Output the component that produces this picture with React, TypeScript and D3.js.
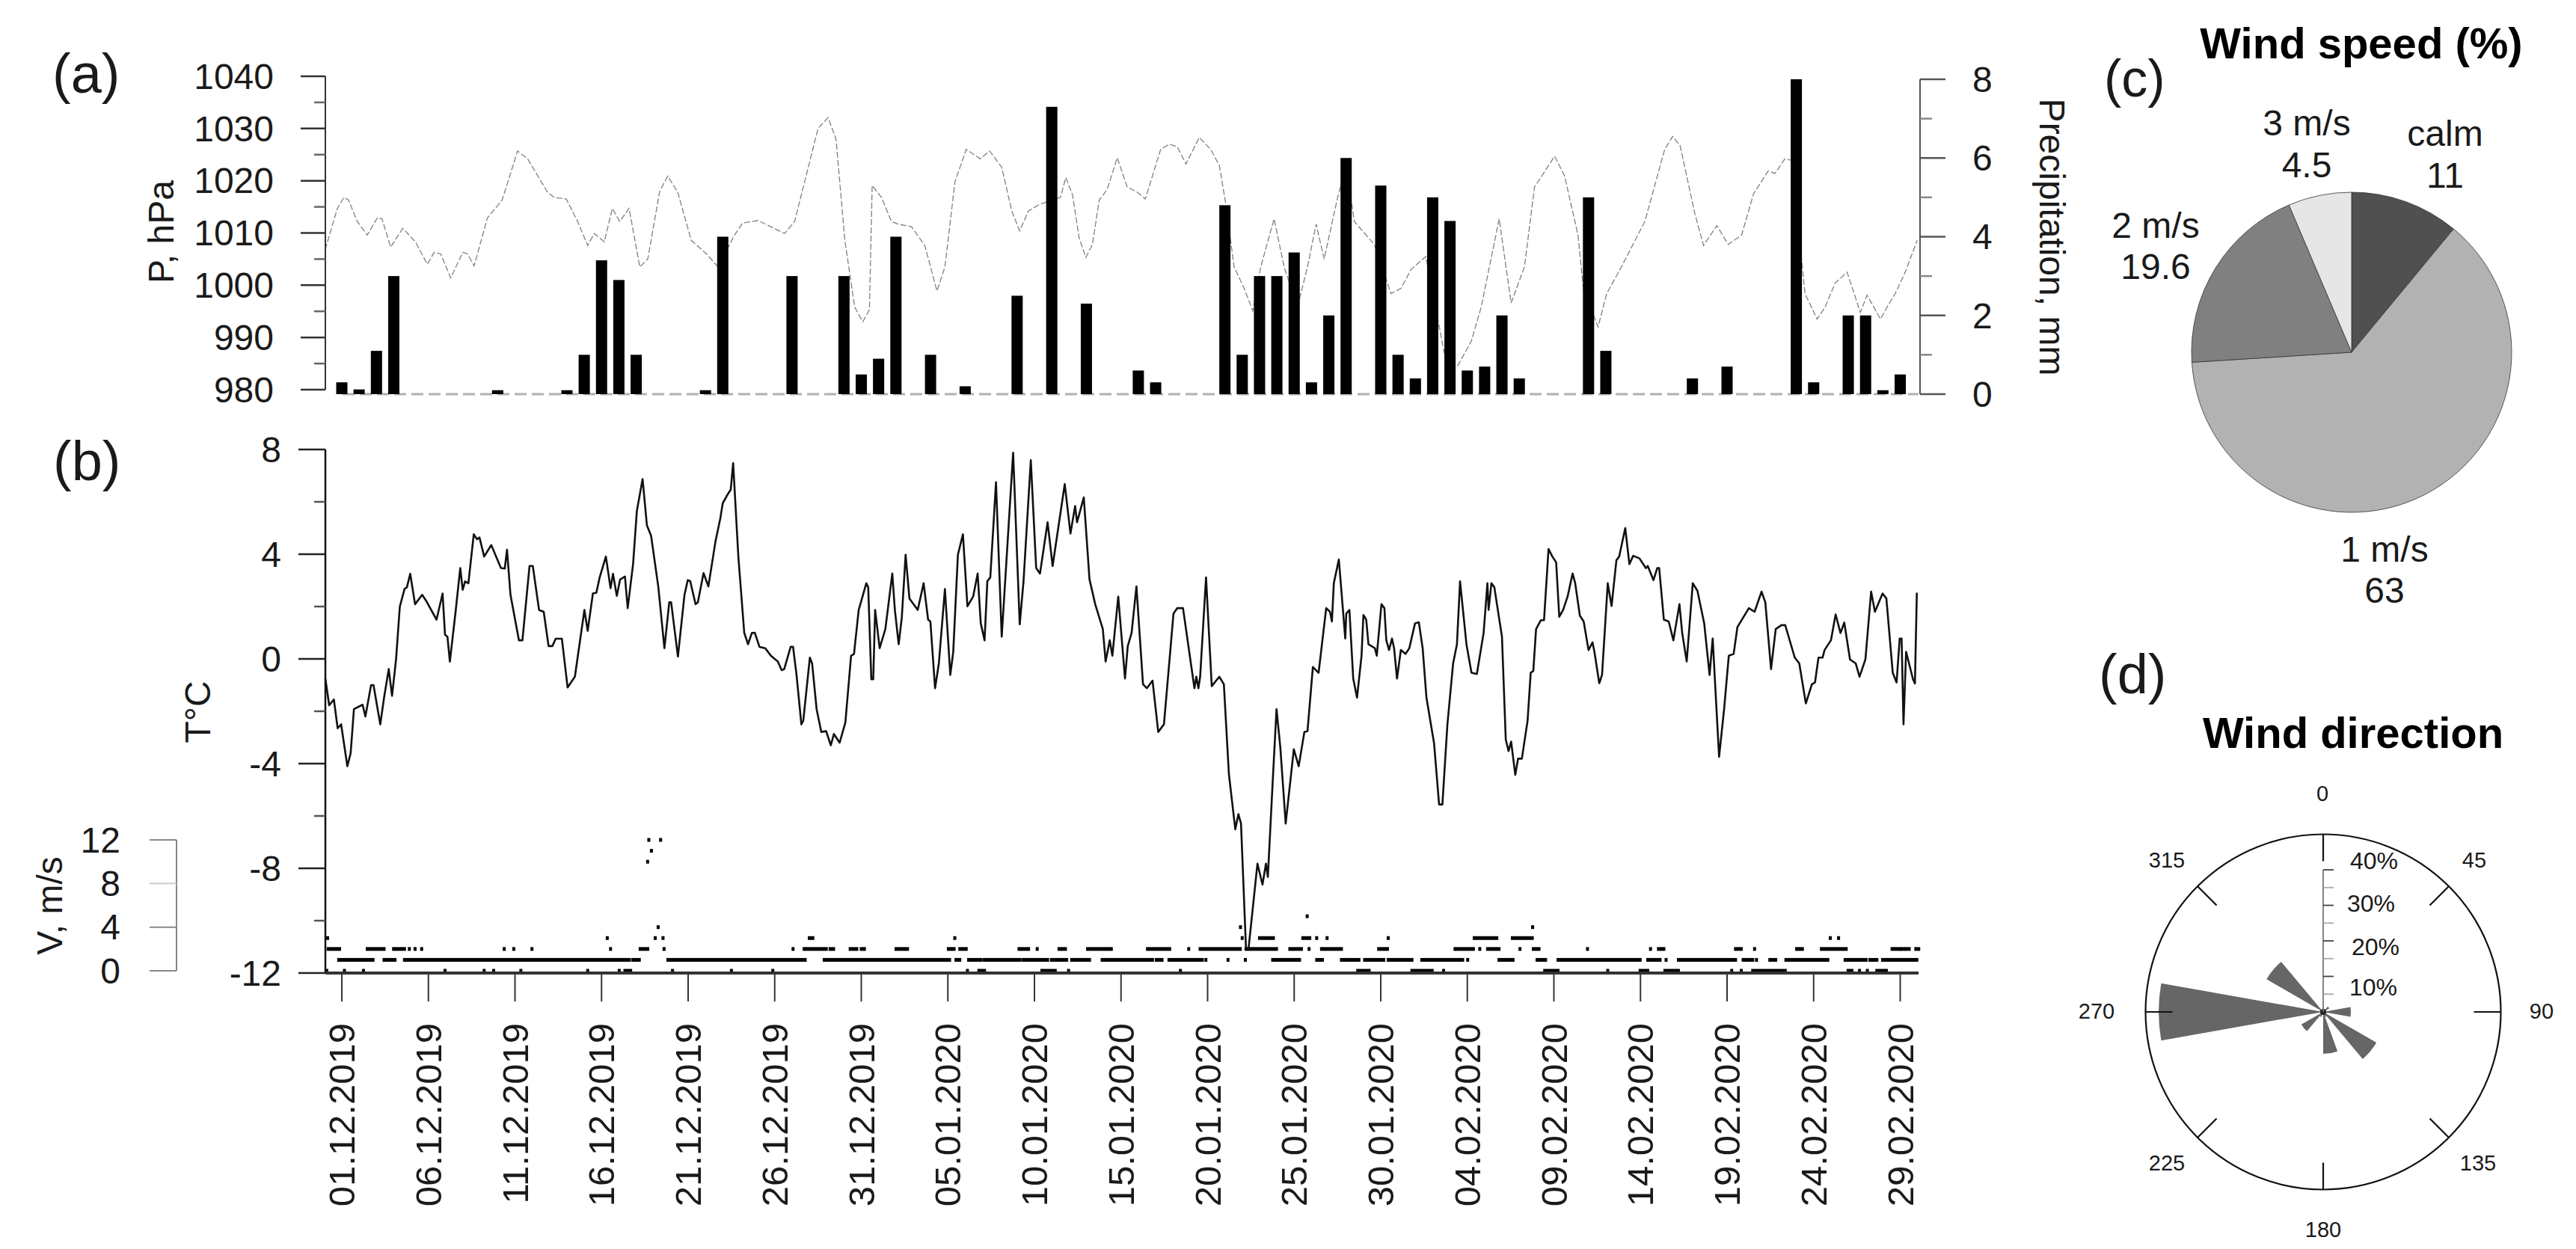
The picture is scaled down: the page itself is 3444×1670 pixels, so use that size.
import React from "react";
import * as d3 from "d3";

// ---------- DATA ----------
const dateLabels = ["01.12.2019","06.12.2019","11.12.2019","16.12.2019","21.12.2019","26.12.2019","31.12.2019","05.01.2020","10.01.2020","15.01.2020","20.01.2020","25.01.2020","30.01.2020","04.02.2020","09.02.2020","14.02.2020","19.02.2020","24.02.2020","29.02.2020"];

// day number since 01.12.2019
const precipDays = [0,1,2,3,9,13,14,15,16,17,21,22,26,29,30,31,32,34,36,39,41,43,46,47,51,52,53,54,55,56,57,58,60,61,62,63,64,65,66,67,68,72,73,78,80,84,85,87,88,89,90];
const precipMm = [0.3,0.12,1.1,3,0.1,0.1,1,3.4,2.9,1,0.1,4,3,3,0.5,0.9,4,1,0.2,2.5,7.3,2.3,0.6,0.3,4.8,1,3,3,3.6,0.3,2,6,5.3,1,0.4,5,4.4,0.6,0.7,2,0.4,5,1.1,0.4,0.7,8,0.3,2,2,0.1,0.5];

const pressure: [number, number][] = [[-0.96,1006.8],[-0.26,1014.7],[0.12,1016.8],[0.39,1016.3],[0.89,1012.2],[1.47,1009.6],[2.05,1012.9],[2.32,1012.7],[2.82,1007.3],[3.52,1010.9],[4.25,1008.3],[4.94,1004],[5.33,1006.3],[5.71,1006],[6.29,1001.4],[6.99,1006.3],[7.26,1006],[7.64,1003.7],[8.41,1012.9],[9.26,1016.3],[10.15,1025.7],[10.73,1024.2],[11.88,1017.8],[12.27,1016.8],[12.96,1016.5],[13.62,1012.2],[14.2,1007.6],[14.58,1009.9],[15.16,1008.3],[15.62,1014.7],[16.05,1012.2],[16.59,1014.7],[17.21,1003.5],[17.67,1005],[18.36,1018],[18.82,1020.9],[19.4,1017.8],[20.18,1008.6],[21.06,1006],[21.72,1003.5],[22.68,1009.6],[23.15,1011.9],[24.03,1012.4],[25.57,1009.9],[26.15,1012.2],[26.73,1019.8],[27.5,1030],[28.08,1032.1],[28.54,1028],[29.05,1008.6],[29.62,995.8],[30.09,993],[30.47,995.3],[30.63,1019.1],[31.17,1016.8],[31.74,1012.2],[32.13,1011.7],[32.9,1011.2],[33.67,1007.6],[34.37,998.9],[34.83,1003.5],[35.41,1019.8],[36.06,1026],[36.87,1024.2],[37.41,1025.7],[38.11,1022.6],[38.69,1014.2],[39.15,1010.4],[39.65,1014.2],[40.31,1015.5],[41.5,1016.8],[41.81,1020.6],[42.2,1017.3],[42.58,1009.1],[42.97,1005.3],[43.35,1007.8],[43.74,1016.3],[44.2,1018.3],[44.78,1024.4],[45.36,1018.8],[45.94,1017.8],[46.4,1016.5],[46.71,1019.8],[47.29,1026],[47.79,1027],[48.25,1026.5],[48.75,1023.2],[49.52,1028.3],[50.18,1026],[50.68,1022.9],[51.07,1015.2],[51.53,1003.5],[52.11,999.4],[52.61,995.1],[53.07,1003.5],[53.84,1012.7],[54.42,1003.5],[55.19,995.8],[55.77,1003.5],[56.27,1011.7],[56.73,1005],[57.51,1016.8],[58.01,1022.9],[58.47,1012.2],[59.63,1007.8],[60.59,998.4],[61.17,999.4],[61.75,1003],[62.6,1005.5],[63.02,998.4],[63.75,985.6],[64.45,984.6],[65.22,989.2],[65.8,995.8],[66.84,1012.7],[67.53,996.6],[68.3,1003.5],[68.88,1018.8],[70.04,1024.7],[70.62,1020.9],[71.39,1009.6],[71.7,999.4],[72.55,992],[73.05,998.4],[73.9,1003.5],[75.25,1012.2],[76.4,1026],[76.86,1028.5],[77.29,1026.7],[78.14,1013.7],[78.64,1007.6],[79.41,1011.4],[80.07,1007.8],[80.84,1009.6],[81.53,1017.5],[82.38,1021.9],[82.77,1021.4],[83.34,1024.2],[83.73,1023.9],[84.5,998.4],[85.2,993.5],[85.66,995.8],[86.24,1000.4],[86.93,1002.5],[87.7,994.8],[88.09,998.1],[88.86,993.5],[89.24,995.8],[89.71,998.4],[90.29,1002.5],[90.98,1008.6]];

const temperature: [number, number][] = [[-0.95,-0.75],[-0.73,-1.77],[-0.46,-1.55],[-0.24,-2.65],[-0.04,-2.5],[0.32,-4.1],[0.51,-3.6],[0.7,-1.92],[1.2,-1.75],[1.36,-2.2],[1.69,-1],[1.83,-1],[2.22,-2.5],[2.44,-1.48],[2.71,-0.39],[2.9,-1.41],[3.13,-0.03],[3.35,2],[3.62,2.67],[3.76,2.74],[3.95,3.25],[4.23,2.09],[4.64,2.45],[4.86,2.23],[5.47,1.5],[5.82,2.5],[5.96,0.92],[6.1,0.85],[6.24,-0.1],[6.57,1.8],[6.84,3.47],[6.98,2.64],[7.12,2.96],[7.31,2.89],[7.62,4.76],[7.81,4.57],[7.95,4.64],[8.22,3.91],[8.63,4.35],[9.19,3.47],[9.41,3.45],[9.54,4.17],[9.74,2.45],[10.23,0.71],[10.43,0.71],[10.84,3.55],[11.03,3.55],[11.39,1.87],[11.66,1.8],[11.94,0.49],[12.16,0.49],[12.35,0.77],[12.71,0.77],[13.04,-1.09],[13.46,-0.68],[14.01,1.87],[14.2,1.07],[14.5,2.5],[14.7,2.53],[14.89,3.11],[15.25,3.91],[15.52,2.7],[15.66,3.25],[15.88,2.41],[16.07,3.03],[16.35,3.15],[16.51,1.94],[16.82,3.62],[17.04,5.66],[17.37,6.87],[17.62,5.1],[17.86,4.71],[18.28,2.74],[18.63,0.41],[18.91,2.16],[19.02,2.16],[19.41,0.09],[19.79,2.45],[19.98,3.01],[20.12,2.97],[20.43,2.09],[20.56,2.16],[20.89,3.28],[21.17,2.77],[21.58,4.49],[21.86,5.37],[22,5.95],[22.35,6.36],[22.46,6.46],[22.6,7.48],[22.9,3.91],[23.24,1],[23.46,0.56],
[23.68,0.99],[23.85,1],[24.12,0.46],[24.45,0.41],[24.78,0.12],[25.18,-0.1],[25.4,-0.43],[25.55,-0.39],[25.92,0.46],[26.06,0.46],[26.26,-0.61],[26.54,-2.5],[26.65,-2.36],[27.03,0.05],[27.16,-0.17],[27.42,-1.92],[27.69,-2.79],[27.97,-2.76],[28.24,-3.3],[28.42,-2.87],[28.75,-3.2],[29.08,-2.43],[29.41,0.12],[29.58,0.19],[29.85,1.87],[30.29,2.89],[30.4,2.74],[30.58,-0.78],[30.69,-0.78],[30.8,1.87],[31.06,0.41],[31.39,1.14],[31.79,3.26],[31.94,1.87],[32.16,0.56],[32.34,1.58],[32.56,3.98],[32.78,2.31],[33.26,1.87],[33.6,2.89],[33.86,1.5],[33.99,1.43],[34.26,-1.12],[34.48,-0.17],[34.83,2.67],[35.14,-0.61],[35.31,0.26],[35.58,3.98],[35.87,4.76],[36.13,2.01],[36.46,2.38],[36.72,3.26],[36.9,1.36],[37.12,0.71],[37.28,2.97],[37.45,3.11],[37.78,6.75],[38.11,0.85],[38.33,3.18],[38.77,7.88],[39.15,1.32],[39.37,2.97],[39.79,7.59],[40.1,3.47],[40.32,3.26],[40.76,5.22],[41.05,3.55],[41.75,6.68],[42.08,4.79],[42.35,5.84],[42.46,5.22],[42.85,6.17],[43.18,3.04],[43.51,2.09],[43.95,1.14],[44.11,-0.1],[44.35,0.71],[44.5,0.12],[44.84,2.38],[45.23,-0.75],[45.39,0.49],[45.61,0.99],[45.89,2.77],[46.27,-0.97],[46.49,-1.12],[46.82,-0.83],[47.15,-2.79],[47.48,-2.5],[48.03,1.73],[48.25,1.94],[48.58,1.94],[49.24,-1.12],[49.35,-0.68],[49.47,-1.12],[49.57,-0.68],[49.91,3.11],[50.24,-1.04],[50.68,-0.68],[50.94,-0.97],[51.23,-4.4],[51.6,-6.51],[51.78,-5.93],[51.93,-6.29],[52.22,-11.1],[52.37,-11.03],[52.88,-7.82],[53.17,-8.62],[53.37,-7.82],[53.48,-8.33],[53.76,-4.69],[53.98,-1.92],[54.2,-3.38],[54.51,-6.29],[54.98,-3.45],[55.26,-4.1],[55.59,-2.79],[55.77,-2.76],[56.08,-0.31],[56.41,-0.53],[56.85,1.94],[57.07,1.8],[57.18,1.43],[57.29,2.89],[57.58,3.8],[57.95,0.78],
[58.01,1.73],[58.19,1.87],[58.41,-0.75],[58.63,-1.48],[58.89,0.12],[59,1.68],[59.16,1.5],[59.29,0.56],[59.66,0.41],[59.77,0.12],[60.04,2.09],[60.21,1.94],[60.32,0.71],[60.48,0.34],[60.65,0.78],[60.77,0.41],[60.94,-0.75],[61.16,0.34],[61.43,0.19],[61.65,0.41],[61.98,1.36],[62.2,1.4],[62.42,0.41],[62.64,-1.48],[63.08,-3.23],[63.37,-5.56],[63.56,-5.56],[63.85,-2.5],[64.18,-0.17],[64.4,0.56],[64.58,2.96],[64.95,0.56],[65.24,-0.53],[65.55,-0.58],[65.94,0.99],[66.16,2.89],[66.23,1.87],[66.39,2.89],[66.56,2.74],[67,0.85],[67.22,-3.08],[67.38,-3.52],[67.53,-3.16],[67.77,-4.43],[67.93,-3.81],[68.15,-3.81],[68.48,-2.36],[68.66,-0.53],[68.81,-0.46],[68.97,1.14],[69.25,1.48],[69.43,1.48],[69.69,4.2],[69.91,3.91],[70.13,3.69],[70.31,1.61],[70.53,1.87],[70.79,2.38],[71.08,3.26],[71.23,2.89],[71.5,1.65],[71.72,1.43],[72,0.34],[72.23,0.63],[72.34,0.27],[72.62,-0.93],[72.78,-0.61],[73.11,2.89],[73.33,2.02],[73.61,3.77],[73.77,3.91],[74.12,5],[74.36,3.62],[74.58,3.94],[74.94,3.84],[75.31,3.47],[75.42,3.55],[75.75,3.01],[75.97,3.47],[76.08,3.47],[76.35,1.5],[76.63,1.43],[76.9,0.71],[77.25,2.09],[77.41,0.99],[77.67,-0.1],[78.02,2.89],[78.29,2.6],[78.68,1.36],[78.99,-0.61],[79.17,0.78],[79.39,-1.92],[79.54,-3.74],[79.83,-1.92],[80.1,0.12],[80.38,0.19],[80.6,1.22],[81.26,1.94],[81.59,1.8],[81.99,2.57],[82.21,2.16],[82.54,-0.39],[82.81,1.14],[83.14,1.29],[83.36,1.29],[83.91,0.05],[84.17,-0.17],[84.55,-1.7],[84.9,-0.97],[85.08,-0.9],[85.28,0.05],[85.52,0.05],[85.63,0.34],[86,0.71],[86.27,1.7],[86.55,0.99],[86.77,1.39],[87.1,-0.02],[87.43,-0.17],[87.65,-0.68],[87.99,-0.02],[88.32,2.57],[88.54,1.8],[88.98,2.5],[89.2,2.31],[89.57,-0.53],[89.79,-0.9],[89.97,0.78],[90.08,0.78],[90.19,-2.5],[90.34,0.27],[90.74,-0.78],[90.85,-0.94],[90.96,2.53]];

// wind speed observations: [first day, last day] of each unbroken run at one speed
const windCalmRuns: [number, number][] = [[-0.87,-0.87],[0.15,0.15],[1.25,1.25],[5.96,5.96],[8.22,8.22],[8.77,8.77],[10.34,10.34],[14.2,14.2],[16.02,16.02],[16.35,16.68],[19.1,19.1],[22.5,22.5],[24.89,24.89],[36.13,36.13],[36.79,37.12],[40.43,41.2],[41.97,41.97],[48.43,48.43],[58.67,59.33],[61.8,62.97],[63.63,63.63],[69.47,70.24],[73.11,73.11],[74.98,75.42],[76.41,77.19],[80.27,80.27],[80.82,80.82],[81.48,83.36],[86.99,87.21],[87.65,87.65],[88.1,88.1],[88.65,89.2]];
const wind1Runs: [number, number][] = [[-0.18,1.8],[2.44,3.07],[3.62,15.9],[16,16.6],[16.8,17.18],[18.83,26.76],[27.86,35.1],[35.47,35.69],[36.2,36.9],[37.08,39.15],[39.33,40.76],[40.98,41.86],[42.15,43.18],[43.91,46.82],[47.04,47.37],[47.77,49.69],[49.9,49.9],[51.18,51.18],[52.18,52.18],[53.76,55.31],[56.3,56.63],[57.73,58.74],[59.07,60.17],[60.43,61.8],[62.37,64.73],[65.02,65.02],[66.83,67.64],[69.03,69.52],[70.24,74.98],[75.42,76.13],[76.48,76.48],[77.19,80.49],[80.93,81.48],[81.7,81.7],[82.47,82.81],[83.4,85.82],[86.82,87.06],[87.21,88.03],[88.25,88.65],[88.98,90.96]];
const wind2Runs: [number, number][] = [[-0.79,-0.13],[1.47,2.44],[2.99,3.62],[3.9,3.9],[4.23,4.23],[4.61,4.61],[9.38,9.38],[9.93,9.93],[10.98,10.98],[15.52,15.52],[17.23,17.67],[18.61,18.61],[26.06,26.06],[26.7,27.98],[28.2,28.4],[29.36,29.74],[30,30.18],[32.01,32.67],[35.03,35.36],[35.69,36.06],[39.11,39.66],[40.16,40.16],[41.42,41.79],[43.07,44.44],[46.53,47.81],[48.91,48.91],[49.57,51.89],[52.22,53.98],[54.75,55.42],[55.86,55.86],[56.58,57.73],[59.88,60.39],[64.29,65.35],[65.72,65.72],[66.17,66.83],[68.04,68.04],[68.81,69.14],[71.94,71.94],[75.58,75.58],[76.04,76.35],[80.49,80.82],[81.59,81.59],[84.02,84.35],[85.45,86.88],[89.53,89.97],[90.08,90.52],[90.9,91.07]];
const wind3Runs: [number, number][] = [[-0.82,-0.82],[15.33,15.33],[18.1,18.1],[18.55,18.55],[27,27.2],[35.4,35.4],[52,52],[53,53.8],[55.5,55.9],[56.3,56.3],[56.9,56.9],[60.43,60.43],[65.4,66.7],[67.6,68.75],[85.96,85.96],[86.44,86.44]];
const windHigh: [number, number][] = [[18.27,4],[51.9,4],[68.77,4],[55.75,5],[17.66,10],[17.88,11],[17.73,12],[18.41,12]];

const pieLabels = [["calm","11"],["1 m/s","63"],["2 m/s","19.6"],["3 m/s","4.5"]];
const pieShares = [11, 63, 19.6, 6.4]; // angular share as drawn
const pieColours = ["#505050","#b2b2b2","#808080","#e6e6e6"];

const roseFromDeg = [260,300,120,160,80,220,40,200,140,340,280,100];
const rosePercent = [46.3,18.4,17.3,11.8,7.8,7.1,2,1.5,1.5,1,1,1];
const roseDirs = [0,45,90,135,180,225,270,315];
const rosePercentLabels = [10,20,30,40];

// ---------- SCALES ----------
const font = "'Liberation Sans', Arial, sans-serif";
const x = d3.scaleLinear().domain([0, 90]).range([457, 2540.5]);
const yP = d3.scaleLinear().domain([980, 1040]).range([521, 102]);
const yR = d3.scaleLinear().domain([0, 8]).range([527, 106]);
const yT = d3.scaleLinear().domain([-12, 8]).range([1301, 601]);
const yV = d3.scaleLinear().domain([0, 12]).range([1298, 1123]);
const rRose = d3.scaleLinear().domain([0, 50]).range([0, 237.5]);

const lineP = d3.line<[number, number]>().x(d => x(d[0])).y(d => yP(d[1]));
const lineT = d3.line<[number, number]>().x(d => x(d[0])).y(d => yT(d[1]));
const pieGen = d3.pie<number>().sort(null);
const pieArc = d3.arc<d3.PieArcDatum<number>>().innerRadius(0).outerRadius(214);
const roseArc = d3.arc();

const rad = (deg: number) => (deg * Math.PI) / 180;

function Txt(p: any) {
  return <text fontFamily={font} fontSize={48} fill="#1a1a1a" {...p} />;
}

function WindRuns({ runs, v }: { runs: [number, number][]; v: number }) {
  return (
    <g fill="#000">
      {runs.map((r, i) => (
        <rect key={i} x={x(r[0]) - 2} y={yV(v) - 2.5} width={x(r[1]) - x(r[0]) + 4} height={5} />
      ))}
    </g>
  );
}

export default function App() {
  const pie = pieGen(pieShares);
  const pieCx = 3144, pieCy = 471;
  const roseCx = 3106, roseCy = 1353;
  const roseR = rRose(50);
  const pieText = [
    { x: 3269, y: [195, 251] },
    { x: 3188, y: [751, 806] },
    { x: 2882, y: [318, 373] },
    { x: 3084, y: [181, 237] },
  ];
  const roseLabelPos = [[3105,1061],[3308,1150],[3398,1352],[3313,1555],[3106,1644],[2897,1555],[2803,1352],[2897,1150]];
  const rosePctPos: [number, number][] = [[3173,1320],[3176,1266],[3170,1208],[3174,1151]];

  return (
    <svg width={3444} height={1670} viewBox="0 0 3444 1670" style={{ position: "absolute", left: 0, top: 0, display: "block", background: "#fff" }}>
      {/* panel letters */}
      <Txt x={70} y={124} fontSize={74}>(a)</Txt>
      <Txt x={71} y={642} fontSize={74}>(b)</Txt>
      <Txt x={2813} y={129} fontSize={70}>(c)</Txt>
      <Txt x={2806} y={927} fontSize={74}>(d)</Txt>

      {/* panel a */}
      <line x1={458} x2={2565} y1={yR(0)} y2={yR(0)} stroke="#b0b0b0" strokeWidth={3} strokeDasharray="16 7" />
      <path d={lineP(pressure) ?? ""} fill="none" stroke="#808080" strokeWidth={1.3} strokeDasharray="8 3" />
      <g fill="#000">
        {precipDays.map((d, i) => (
          <rect key={d} x={x(d) - 7.5} y={yR(precipMm[i])} width={15} height={yR(0) - yR(precipMm[i])} />
        ))}
      </g>
      <line x1={435} x2={435} y1={yP(1040)} y2={yP(980)} stroke="#333" strokeWidth={2} />
      {d3.range(980, 1041, 5).map(v => (
        <line key={v} x1={v % 10 === 0 ? 402 : 420} x2={435} y1={yP(v)} y2={yP(v)} stroke={v % 10 === 0 ? "#333" : "#666"} strokeWidth={2.5} />
      ))}
      {d3.range(980, 1041, 10).map(v => (
        <Txt key={v} x={366} y={yP(v)} dy="0.35em" textAnchor="end">{v}</Txt>
      ))}
      <Txt transform="translate(232,310) rotate(-90)" textAnchor="middle">P, hPa</Txt>
      <line x1={2567} x2={2567} y1={yR(8)} y2={yR(0)} stroke="#555" strokeWidth={2} />
      {d3.range(0, 9).map(v => (
        <line key={v} x1={2567} x2={v % 2 === 0 ? 2601 : 2583} y1={yR(v)} y2={yR(v)} stroke={v % 2 === 0 ? "#555" : "#888"} strokeWidth={2.5} />
      ))}
      {d3.range(0, 9, 2).map(v => (
        <Txt key={v} x={2637} y={yR(v)} dy="0.35em">{v}</Txt>
      ))}
      <Txt transform="translate(2727,317) rotate(90)" textAnchor="middle">Precipitation, mm</Txt>

      {/* panel b */}
      <WindRuns runs={windCalmRuns} v={0} />
      <WindRuns runs={wind1Runs} v={1} />
      <WindRuns runs={wind2Runs} v={2} />
      <WindRuns runs={wind3Runs} v={3} />
      <g fill="#000">
        {windHigh.map((d, i) => (
          <rect key={i} x={x(d[0]) - 2} y={yV(d[1]) - 2.5} width={4} height={5} />
        ))}
      </g>
      <path d={lineT(temperature) ?? ""} fill="none" stroke="#111" strokeWidth={2.6} strokeLinejoin="round" />
      <line x1={435} x2={435} y1={yT(8)} y2={yT(-12)} stroke="#111" strokeWidth={2.5} />
      {d3.range(-12, 9, 2).map(v => (
        <line key={v} x1={v % 4 === 0 ? 399 : 420} x2={435} y1={yT(v)} y2={yT(v)} stroke={v % 4 === 0 ? "#222" : "#555"} strokeWidth={2.5} />
      ))}
      {d3.range(-12, 9, 4).map(v => (
        <Txt key={v} x={376} y={yT(v)} dy="0.35em" textAnchor="end">{v}</Txt>
      ))}
      <Txt transform="translate(281,952) rotate(-90)" textAnchor="middle">T°C</Txt>
      <line x1={435} x2={2565} y1={yT(-12)} y2={yT(-12)} stroke="#333" strokeWidth={4} />
      {dateLabels.map((t, i) => (
        <g key={t}>
          <line x1={x(i * 5)} x2={x(i * 5)} y1={yT(-12)} y2={1339} stroke="#333" strokeWidth={2} />
          <Txt transform={`translate(${x(i * 5) + 17},1368) rotate(-90)`} textAnchor="end" fontSize={49}>{t}</Txt>
        </g>
      ))}

      {/* speed axis */}
      <line x1={236} x2={236} y1={yV(12)} y2={yV(0)} stroke="#888" strokeWidth={2} />
      {[0, 4, 8, 12].map(v => (
        <g key={v}>
          <line x1={200} x2={236} y1={yV(v)} y2={yV(v)} stroke={v === 8 ? "#ccc" : "#888"} strokeWidth={2} />
          <Txt x={161} y={yV(v)} dy="0.35em" textAnchor="end">{v}</Txt>
        </g>
      ))}
      <Txt transform="translate(83,1211) rotate(-90)" textAnchor="middle">V, m/s</Txt>

      {/* panel c */}
      <Txt x={3157} y={78} fontSize={58} fontWeight="bold" fill="#000" textAnchor="middle">Wind speed (%)</Txt>
      <g transform={`translate(${pieCx},${pieCy})`}>
        {pie.map((s, i) => (
          <path key={i} d={pieArc(s) ?? ""} fill={pieColours[i]} stroke="#333" strokeWidth={0.8} />
        ))}
      </g>
      {pieLabels.map((l, i) => (
        <g key={l[0]} textAnchor="middle">
          <Txt x={pieText[i].x} y={pieText[i].y[0]} textAnchor="middle">{l[0]}</Txt>
          <Txt x={pieText[i].x} y={pieText[i].y[1]} textAnchor="middle">{l[1]}</Txt>
        </g>
      ))}

      {/* panel d */}
      <Txt x={3146} y={1000} fontSize={58} fontWeight="bold" fill="#000" textAnchor="middle">Wind direction</Txt>
      <g transform={`translate(${roseCx},${roseCy})`}>
        {roseFromDeg.map((a, i) => (
          <path key={a} fill="#666" d={roseArc({ innerRadius: 0, outerRadius: rRose(rosePercent[i]), startAngle: rad(a), endAngle: rad(a + 20) } as any) ?? ""} />
        ))}
        <circle r={4} fill="#222" />
        <circle r={roseR} fill="none" stroke="#111" strokeWidth={2.2} />
        {roseDirs.map(a => {
          const s = Math.sin(rad(a)), c = -Math.cos(rad(a));
          return <line key={a} x1={s * roseR} y1={c * roseR} x2={s * (roseR - 36)} y2={c * (roseR - 36)} stroke="#111" strokeWidth={2.2} />;
        })}
        <line x1={0} x2={0} y1={0} y2={-rRose(40)} stroke="#777" strokeWidth={1.8} />
        {d3.range(5, 41, 5).map(v => (
          <line key={v} x1={0} x2={14} y1={-rRose(v)} y2={-rRose(v)} stroke={v % 10 === 5 ? "#aaa" : "#444"} strokeWidth={1.8} />
        ))}
      </g>
      {rosePercentLabels.map((v, i) => (
        <Txt key={v} x={rosePctPos[i][0]} y={rosePctPos[i][1]} dy="0.35em" textAnchor="middle" fontSize={32}>{v}%</Txt>
      ))}
      {roseDirs.map((a, i) => (
        <Txt key={a} x={roseLabelPos[i][0]} y={roseLabelPos[i][1]} dy="0.35em" textAnchor="middle" fontSize={29}>{a}</Txt>
      ))}
    </svg>
  );
}
